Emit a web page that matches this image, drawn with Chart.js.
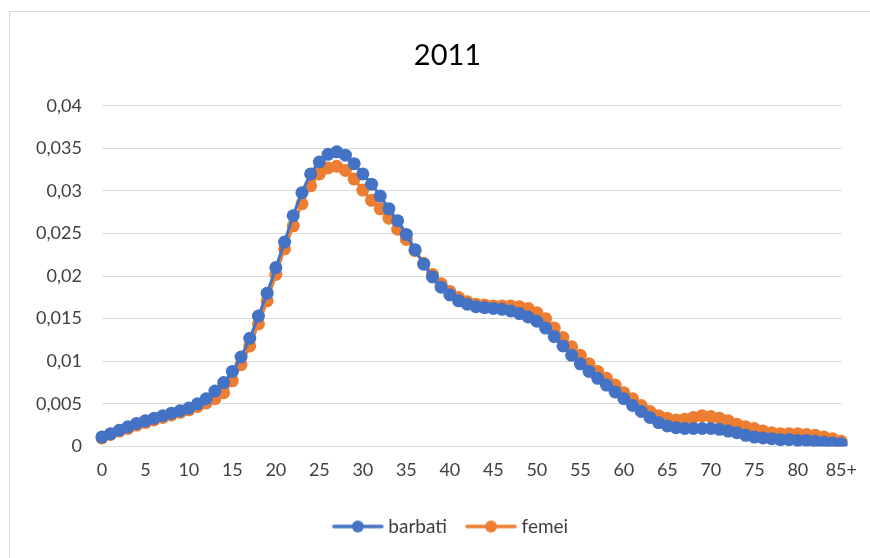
<!DOCTYPE html>
<html>
<head>
<meta charset="utf-8">
<script src="https://cdn.jsdelivr.net/npm/chart.js@4.4.1/dist/chart.umd.min.js"></script>
<style>
  html, body { margin: 0; padding: 0; background: #fff; }
  #wrap { position: relative; width: 870px; height: 558px; overflow: hidden; }
  #frame { position: absolute; left: 9px; top: 11px; width: 900px; height: 600px; border: 1.5px solid #d9d9d9; box-sizing: border-box; }
  canvas { position: absolute; left: 0; top: 0; }
</style>
</head>
<body>
<div id="wrap">
  <div id="frame"></div>
  <canvas id="c" width="870" height="558"></canvas>
</div>
<script>
const titleText = "2011";
const seriesNames = ["barbati", "femei"];
const ageLabels = [];
for (let i = 0; i <= 84; i++) ageLabels.push(String(i));
ageLabels.push("85+");

const barbati = [
  0.0011, 0.0015, 0.0019, 0.0023, 0.0027, 0.0030, 0.0033, 0.0036, 0.0039, 0.0042,
  0.0045, 0.0050, 0.0056, 0.0065, 0.0075, 0.0088, 0.0105, 0.0127, 0.0153, 0.0180,
  0.0210, 0.0240, 0.0271, 0.0298, 0.0320, 0.0334, 0.0343, 0.0346, 0.0342, 0.0332,
  0.0320, 0.0308, 0.0294, 0.0279, 0.0265, 0.0249, 0.0231, 0.0214, 0.0199, 0.0187,
  0.0178, 0.0171, 0.0167, 0.0164, 0.0163, 0.0162, 0.0161, 0.0159, 0.0156, 0.0152,
  0.0147, 0.0139, 0.0129, 0.0118, 0.0107, 0.0097, 0.0088, 0.0080, 0.0072, 0.0064,
  0.0056, 0.0048, 0.0041, 0.0034, 0.0028, 0.0024, 0.0022, 0.0021, 0.0021, 0.0021,
  0.0021, 0.0020, 0.0018, 0.0016, 0.0013, 0.0011, 0.0010, 0.0009, 0.0008, 0.0008,
  0.0007, 0.0007, 0.0006, 0.0005, 0.0004, 0.0003
];
const femei = [
  0.0010, 0.0014, 0.0018, 0.0021, 0.0025, 0.0028, 0.0031, 0.0034, 0.0037, 0.0040,
  0.0043, 0.0047, 0.0051, 0.0056, 0.0063, 0.0077, 0.0096, 0.0118, 0.0144, 0.0171,
  0.0202, 0.0232, 0.0259, 0.0285, 0.0306, 0.0320, 0.0327, 0.0329, 0.0324, 0.0314,
  0.0301, 0.0289, 0.0279, 0.0268, 0.0255, 0.0243, 0.0230, 0.0215, 0.0202, 0.0191,
  0.0182, 0.0175, 0.0170, 0.0167, 0.0166, 0.0165, 0.0165, 0.0165, 0.0164, 0.0162,
  0.0157, 0.0150, 0.0139, 0.0128, 0.0117, 0.0107, 0.0097, 0.0088, 0.0080, 0.0072,
  0.0063, 0.0056, 0.0048, 0.0041, 0.0036, 0.0033, 0.0031, 0.0032, 0.0034, 0.0036,
  0.0035, 0.0033, 0.0030, 0.0026, 0.0023, 0.0021, 0.0018, 0.0016, 0.0015, 0.0015,
  0.0015, 0.0014, 0.0013, 0.0011, 0.0009, 0.0006
];
const yTicks = [0, 0.005, 0.01, 0.015, 0.02, 0.025, 0.03, 0.035, 0.04];

const colors = ["#4472c4", "#ed7d31"];
const FONT = "Lato, 'Liberation Sans', sans-serif";

function legendIcon(color) {
  const cv = document.createElement("canvas");
  cv.width = 52; cv.height = 14;
  const g = cv.getContext("2d");
  g.strokeStyle = color; g.lineWidth = 3.5; g.lineCap = "round";
  g.beginPath(); g.moveTo(2, 7); g.lineTo(50, 7); g.stroke();
  g.fillStyle = color;
  g.beginPath(); g.arc(26, 7, 6, 0, Math.PI * 2); g.fill();
  return cv;
}
const icons = colors.map(legendIcon);

// shift title and legend horizontally to match the reference centring
const shiftBoxes = {
  id: "shiftBoxes",
  afterLayout(chart) {
    if (chart.titleBlock) { chart.titleBlock.left += 18; chart.titleBlock.right += 18; }
    if (chart.legend) { chart.legend.left += 23; chart.legend.right += 23; }
  }
};

new Chart(document.getElementById("c"), {
  type: "line",
  data: {
    labels: ageLabels,
    datasets: [
      { label: seriesNames[0], data: barbati, borderColor: colors[0], backgroundColor: colors[0],
        borderWidth: 3, pointRadius: 6.5, pointBorderWidth: 0, pointHoverRadius: 6.5, tension: 0.3 },
      { label: seriesNames[1], data: femei, borderColor: colors[1], backgroundColor: colors[1],
        borderWidth: 3, pointRadius: 6.5, pointBorderWidth: 0, pointHoverRadius: 6.5, tension: 0.3 }
    ]
  },
  options: {
    responsive: false,
    animation: false,
    layout: { padding: { left: 16, right: 27, top: 38, bottom: 12 } },
    plugins: {
      title: { display: true, text: titleText, color: "#000", font: { family: FONT, size: 29, weight: "normal" }, padding: { top: 0, bottom: 33 } },
      legend: {
        position: "bottom",
        labels: {
          usePointStyle: true, pointStyleWidth: 42, boxHeight: 14,
          color: "#404040", font: { family: FONT, size: 19 }, padding: 23,
          generateLabels(chart) {
            const items = Chart.defaults.plugins.legend.labels.generateLabels(chart);
            items.forEach((it, i) => { it.pointStyle = icons[i]; });
            return items;
          }
        }
      },
      tooltip: { enabled: false }
    },
    scales: {
      x: {
        type: "category",
        offset: false,
        grid: { display: false, drawTicks: false },
        border: { display: true, color: "#d9d9d9", width: 1 },
        ticks: {
          autoSkip: false, maxRotation: 0, padding: 13, color: "#404040",
          font: { family: FONT, size: 18 },
          callback(v, i) { return i % 5 === 0 ? ageLabels[i] : null; }
        }
      },
      y: {
        min: 0, max: 0.04,
        afterBuildTicks(axis) { axis.ticks = yTicks.map(v => ({ value: v })); },
        grid: { color: "#d9d9d9", lineWidth: 1, drawTicks: false },
        border: { display: false },
        ticks: {
          padding: 20, color: "#404040", font: { family: FONT, size: 18 },
          callback(v) { return String(Math.round(v * 1000) / 1000).replace(".", ","); }
        }
      }
    }
  },
  plugins: [shiftBoxes]
});
</script>
</body>
</html>
